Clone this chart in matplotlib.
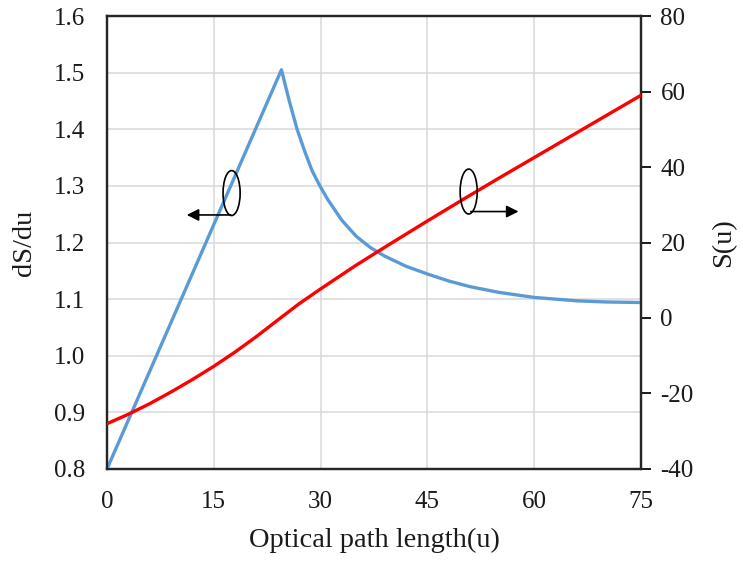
import matplotlib.pyplot as plt
from matplotlib.patches import Ellipse

plt.rcParams['font.family'] = ['Liberation Serif', 'DejaVu Serif']
plt.rcParams['axes.unicode_minus'] = False

# dS/du (left axis)
u_ds = [0, 24.5, 25.6, 26.7, 27.8, 28.8, 29.9, 31, 33, 35, 37, 39, 42, 45.1,
        48, 51, 55, 60, 66, 70, 75]
dsdu = [0.80, 1.505, 1.45, 1.40, 1.36, 1.327, 1.30, 1.276, 1.239, 1.211, 1.191,
        1.176, 1.158, 1.144, 1.132, 1.122, 1.112, 1.103, 1.097, 1.095, 1.094]

# S(u) (right axis)
u_s = [0, 3, 6, 9, 12, 15, 18, 21, 24.5, 27, 30, 35, 40, 45, 50, 55, 60, 65, 70, 75]
s_u = [-28.0, -25.5, -22.7, -19.6, -16.3, -12.8, -9.0, -4.9, 0.2, 3.8, 7.7,
       14.0, 19.9, 25.7, 31.4, 37.0, 42.5, 48.0, 53.5, 59.0]

xticks = [0, 15, 30, 45, 60, 75]
left_ticks = [0.8, 0.9, 1.0, 1.1, 1.2, 1.3, 1.4, 1.5, 1.6]
right_ticks = [-40, -20, 0, 20, 40, 60, 80]

fig = plt.figure(figsize=(7.43, 5.62), dpi=100)
ax = fig.add_axes([0.144, 0.1655, 0.7187, 0.806])
ax2 = ax.twinx()

ax.plot(u_ds, dsdu, color='#5B9BD5', lw=2.4, zorder=3)
ax2.plot(u_s, s_u, color='#FF0000', lw=2.4, zorder=3)

ax.set_xlim(0, 75)
ax.set_ylim(0.8, 1.6)
ax2.set_ylim(-40, 80)
ax.set_xticks(xticks)
ax.set_yticks(left_ticks)
ax.set_yticklabels(['%.1f' % v for v in left_ticks])
ax2.set_yticks(right_ticks)

ax.grid(True, color='#D9D9D9', lw=1.1)
ax.set_axisbelow(True)

for a in (ax, ax2):
    for s in a.spines.values():
        s.set_color('#262626')
        s.set_linewidth(1.6)

ax.tick_params(axis='both', length=0, labelsize=18, colors='#1a1a1a', pad=16)
ax2.tick_params(axis='y', length=7, width=1.4, labelsize=18, colors='#1a1a1a', pad=7)

ax.set_xlabel('Optical path length(u)', fontsize=20.5, color='#1a1a1a')
ax.xaxis.set_label_coords(0.5, -0.13)
ax.xaxis.label.set_verticalalignment('top')

ax.set_ylabel('dS/du', fontsize=20.5, color='#1a1a1a')
ax.yaxis.set_label_coords(-0.154, 0.5)
ax.yaxis.label.set_verticalalignment('center')

ax2.set_ylabel('S(u)', fontsize=20.5, color='#1a1a1a')
ax2.yaxis.set_label_coords(1.155, 0.5)
ax2.yaxis.label.set_verticalalignment('center')

# annotation: ellipse + arrow showing which axis each curve belongs to
ax2.add_patch(Ellipse((17.5, 33.1), 2.4, 11.9, fill=False, ec='black', lw=1.2, zorder=5))
ax2.annotate('', xy=(11.2, 27.3), xytext=(17.4, 27.3),
             arrowprops=dict(arrowstyle='-|>', color='black', lw=1.2,
                             mutation_scale=18, shrinkA=0, shrinkB=0), zorder=5)
ax2.add_patch(Ellipse((50.8, 33.5), 2.4, 11.9, fill=False, ec='black', lw=1.2, zorder=5))
ax2.annotate('', xy=(57.8, 28.2), xytext=(51.1, 28.2),
             arrowprops=dict(arrowstyle='-|>', color='black', lw=1.2,
                             mutation_scale=18, shrinkA=0, shrinkB=0), zorder=5)

fig.savefig('out.png', dpi=100)
